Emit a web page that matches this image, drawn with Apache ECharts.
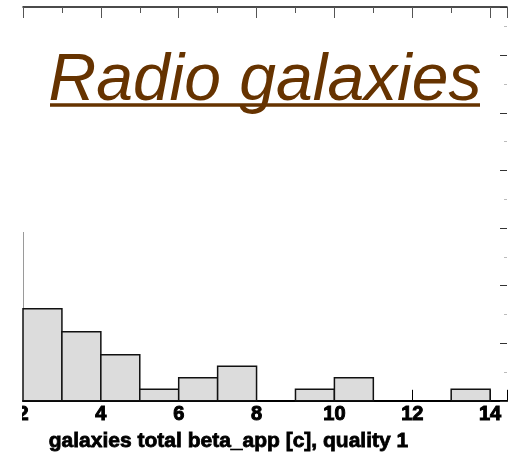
<!DOCTYPE html>
<html>
<head>
<meta charset="utf-8">
<script src="https://cdn.jsdelivr.net/npm/echarts@6/dist/echarts.min.js"></script>
<style>
  html, body { margin: 0; padding: 0; background: #fff; overflow: hidden; width: 100%; height: 100%; }
  #chart { width: 100vw; height: 100vh; }
</style>
</head>
<body>
<div id="chart"></div>
<script>
// Histogram of apparent speeds (beta_app, in units of c), bin width 1
const binStarts = [2, 3, 4, 5, 6, 7, 8, 9, 10, 11, 12, 13];
const binWidth = 1;
const counts = [8, 6, 4, 1, 2, 3, 0, 1, 2, 0, 0, 1];
const xTickValues = [2, 4, 6, 8, 10, 12, 14];
const titleText = 'Radio galaxies';
const xAxisTitle = 'galaxies total beta_app [c], quality 1';

const xMin = 2, xMax = 14.434, yMin = 0, yMax = 34.2;

const histData = binStarts.map((s, i) => [s, s + binWidth, counts[i]]);

const chart = echarts.init(document.getElementById('chart'), null, { renderer: 'canvas' });

const font = '"Liberation Sans", Arial, Helvetica, sans-serif';

chart.setOption({
  animation: false,
  backgroundColor: '#fff',
  grid: { left: 23, right: 0, top: 7, bottom: 50, containLabel: false },
  xAxis: [
    {
      type: 'value', position: 'bottom', min: xMin, max: xMax, interval: 2,
      axisLine: { show: true, onZero: false, lineStyle: { color: '#000', width: 2 } },
      axisTick: { show: true, inside: true, length: 11, lineStyle: { color: '#000', width: 1 } },
      minorTick: { show: true, splitNumber: 2, length: 6, lineStyle: { color: '#000', width: 1 } },
      splitLine: { show: false },
      axisLabel: {
        show: true, margin: 4, color: '#000', fontFamily: font, fontWeight: 'bold', fontSize: 20,
        textBorderColor: '#000', textBorderWidth: 1,
        formatter: v => xTickValues.includes(v) ? String(v) : ''
      },
      name: xAxisTitle, nameLocation: 'middle', nameGap: 22,
      nameTextStyle: {
        color: '#000', fontFamily: font, fontWeight: 'bold', fontSize: 21,
        textBorderColor: '#000', textBorderWidth: 0.8, padding: [0, 73, 0, 0]
      }
    },
    {
      type: 'value', position: 'top', min: xMin, max: xMax, interval: 2,
      axisLine: { show: true, onZero: false, lineStyle: { color: '#111', width: 1.5 } },
      axisTick: { show: true, inside: true, length: 11, lineStyle: { color: '#555', width: 1 } },
      minorTick: { show: true, splitNumber: 2, length: 6, lineStyle: { color: '#555', width: 1 } },
      splitLine: { show: false },
      axisLabel: { show: false }
    }
  ],
  yAxis: [
    {
      type: 'value', position: 'left', min: yMin, max: yMax, interval: 5,
      axisLine: { show: true, onZero: false, lineStyle: { color: '#9a9a9a', width: 1 } },
      axisTick: { show: false },
      splitLine: { show: false },
      axisLabel: { show: false }
    },
    {
      type: 'value', position: 'right', min: yMin, max: yMax, interval: 5,
      axisLine: { show: false },
      axisTick: { show: true, inside: true, length: 7, lineStyle: { color: '#333', width: 1 } },
      minorTick: { show: true, splitNumber: 2, length: 3, lineStyle: { color: '#bbb', width: 1 } },
      splitLine: { show: false },
      axisLabel: { show: false }
    }
  ],
  series: [
    {
      type: 'custom',
      xAxisIndex: 0,
      yAxisIndex: 0,
      data: histData,
      encode: { x: [0, 1], y: 2 },
      renderItem: function (params, api) {
        const lo = api.value(0), hi = api.value(1), c = api.value(2);
        if (!c) return null;
        const p0 = api.coord([lo, 0]);
        const p1 = api.coord([hi, c]);
        return {
          type: 'rect',
          shape: { x: p0[0], y: p1[1], width: p1[0] - p0[0], height: p0[1] - p1[1] },
          style: { fill: '#dcdcdc', stroke: '#111', lineWidth: 1.5 }
        };
      }
    }
  ],
  graphic: [
    // panel behind the title
    { type: 'rect', z: 50, shape: { x: 0, y: 18, width: 500, height: 214 }, style: { fill: '#fff' } },
    // left margin
    { type: 'rect', z: 50, shape: { x: 0, y: 0, width: 22, height: 2000 }, style: { fill: '#fff' } },
    {
      type: 'text', z: 60, x: 265, y: 82,
      style: {
        text: titleText, fill: '#663300',
        font: 'italic 66px ' + font,
        textAlign: 'center', textVerticalAlign: 'middle'
      }
    },
    {
      type: 'line', z: 60,
      shape: { x1: 50, y1: 105, x2: 480, y2: 105 },
      style: { stroke: '#663300', lineWidth: 3.5 }
    }
  ]
});
window.addEventListener('resize', () => chart.resize());
</script>
</body>
</html>
